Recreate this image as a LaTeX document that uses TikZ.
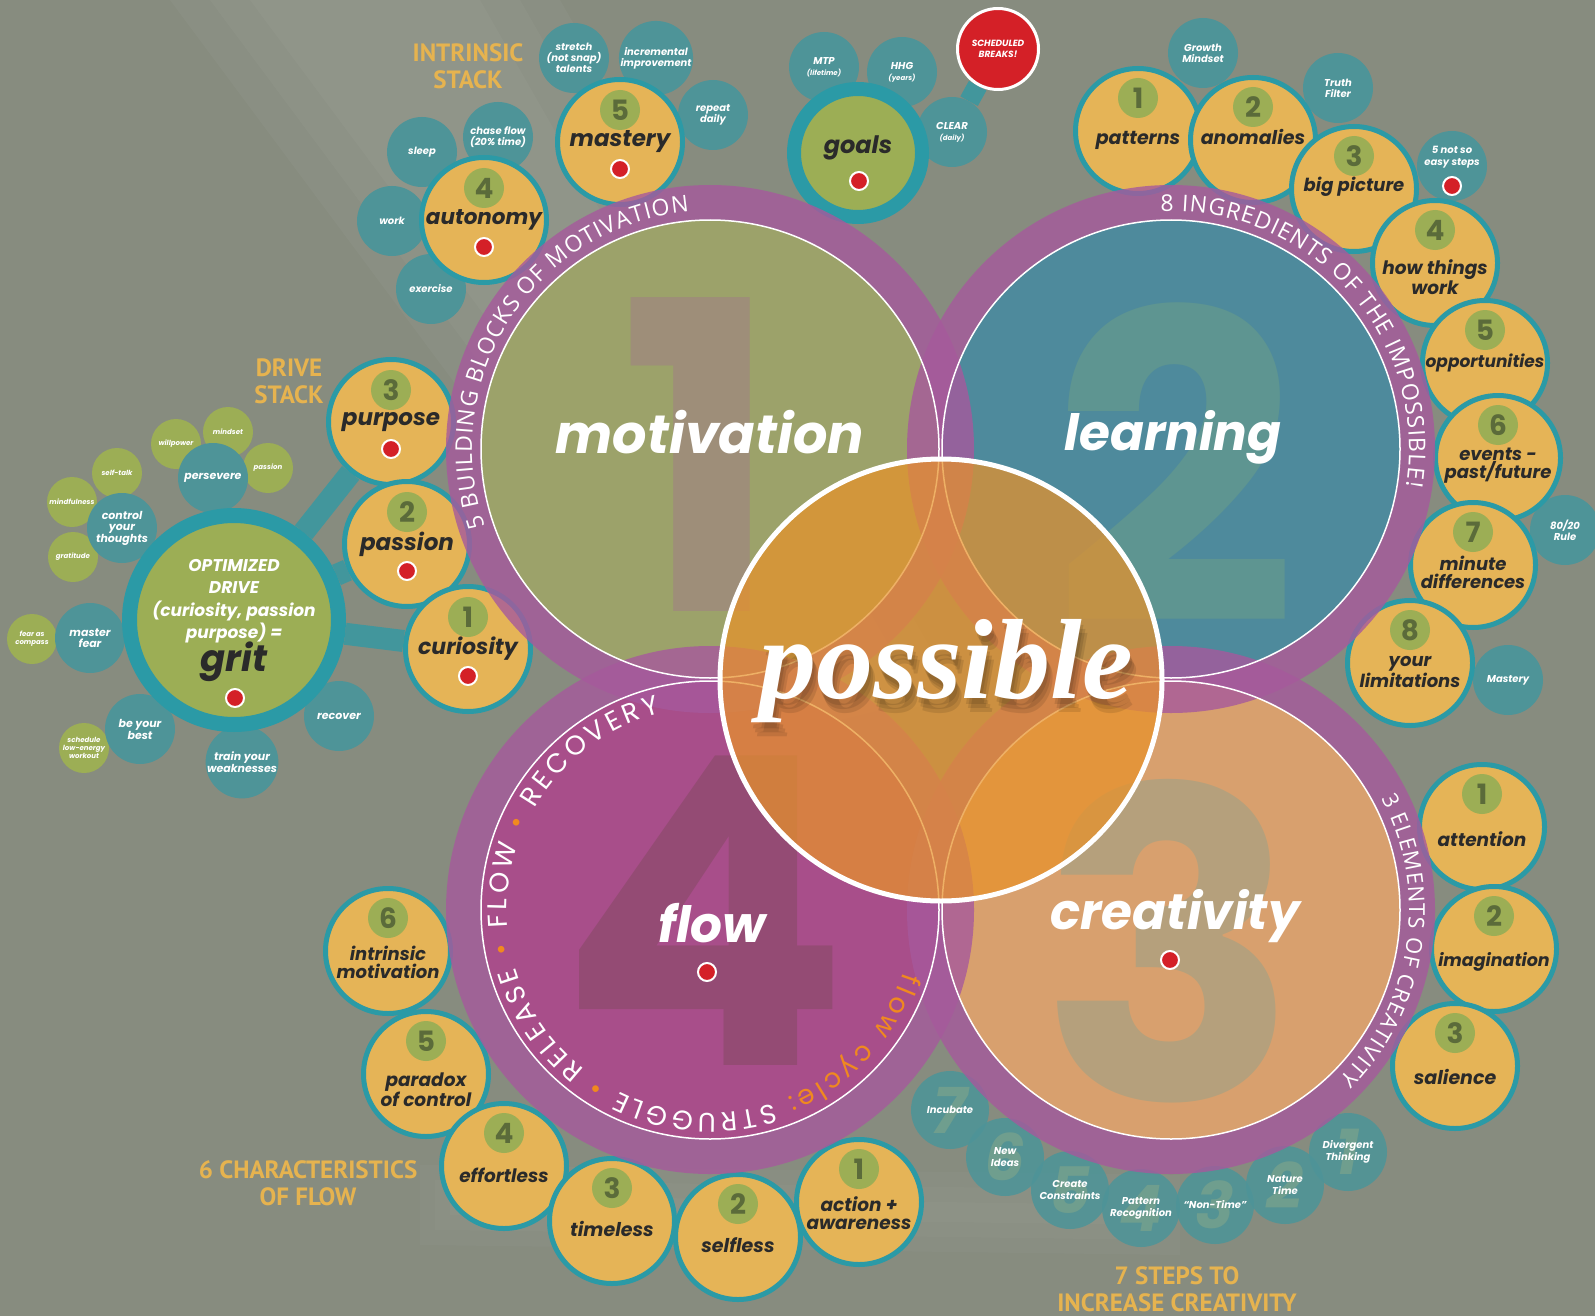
\documentclass[tikz,border=0pt]{standalone}
\usepackage{fontspec}
\setmainfont{Poppins}
\newfontfamily\ringfnt{Open Sans}
\newfontfamily\headfnt{PT Sans}
\newfontfamily\swashfnt{Liberation Serif}
\usetikzlibrary{calc,decorations.text}

\definecolor{bgGray}{HTML}{878C7F}
\definecolor{ringPurple}{HTML}{A6599C}
\definecolor{motGreen}{HTML}{9CA26A}
\definecolor{learnTeal}{HTML}{4E8A9C}
\definecolor{creaTan}{HTML}{D8A06E}
\definecolor{flowMag}{HTML}{A84E8A}
\definecolor{possOrange}{HTML}{E8922A}
\definecolor{satYellow}{HTML}{E5B457}
\definecolor{satTeal}{HTML}{2B9AA6}
\definecolor{dotTeal}{HTML}{4E9498}
\definecolor{leafGreen}{HTML}{9CAE55}
\definecolor{numOlive}{HTML}{5B6B3A}
\definecolor{inkDark}{HTML}{2A2A2A}
\definecolor{redDot}{HTML}{D42027}
\definecolor{headGold}{HTML}{E6B34F}
\definecolor{cycleOrange}{HTML}{F0891F}
\definecolor{ghostOne}{HTML}{9E8E79}
\definecolor{ghostTwo}{HTML}{5E9591}
\definecolor{ghostThree}{HTML}{B5A07C}
\definecolor{ghostFour}{HTML}{944B74}
\definecolor{ghostStep}{HTML}{6F9E8E}

\pgfdeclarelayer{backdrop}
\pgfdeclarelayer{bars}
\pgfsetlayers{backdrop,bars,main}

\newcommand{\cycfont}{\fontsize{27}{27}\selectfont}
\newcommand{\rimfont}{\ringfnt\fontsize{23}{23}\selectfont\color{white}}
\newcommand{\swashsize}{\swashfnt\bfseries\itshape\fontsize{114}{114}\selectfont}

\tikzset{
  bigsat/.style={circle, fill=satYellow, draw=satTeal, line width=5pt, minimum size=125pt, inner sep=0pt},
  satlabel/.style={align=center, text=inkDark, inner sep=0pt, font=\bfseries\itshape\fontsize{19}{18.5}\selectfont},
  badge/.style={circle, fill=leafGreen, minimum size=40pt, inner sep=0pt, text=numOlive, font=\bfseries\fontsize{28}{28}\selectfont},
  reddot/.style={circle, fill=redDot, draw=white, line width=2pt, minimum size=18pt, inner sep=0pt},
  tealbub/.style={circle, fill=dotTeal, minimum size=70pt, inner sep=0pt, align=center, text=white, font=\bfseries\itshape\fontsize{10}{11}\selectfont},
  leafbub/.style={circle, fill=leafGreen, minimum size=50pt, inner sep=0pt, align=center, text=white, font=\bfseries\itshape\fontsize{7}{8}\selectfont},
  stepbub/.style={circle, fill=dotTeal, fill opacity=0.88, minimum size=78pt, inner sep=0pt},
  steptext/.style={align=center, text=white, inner sep=0pt, font=\bfseries\itshape\fontsize{10}{12}\selectfont},
  ghoststep/.style={text=ghostStep, inner sep=0pt, font=\bfseries\itshape\fontsize{64}{64}\selectfont},
  bigword/.style={text=white, inner sep=0pt, font=\bfseries\itshape\fontsize{50}{50}\selectfont},
  ghostnum/.style={inner sep=0pt, font=\bfseries\fontsize{430}{430}\selectfont},
  headline/.style={align=center, text=headGold, inner sep=0pt, font=\headfnt\bfseries\fontsize{25}{27}\selectfont},
  ringtext/.style={decorate, decoration={text along path, text align={fit to path}}},
  stickbar/.style={draw=satTeal, line width=22pt, opacity=0.75},
}

\begin{document}
\begin{tikzpicture}[x=1pt, y=-1pt]
\useasboundingbox (0,0) rectangle (1595,1316);
\begin{pgfonlayer}{backdrop}
  \fill[bgGray] (0,0) rectangle (1595,1316);
  % soft light beams
  \foreach \w in {0,40,80}
    \fill[white, opacity=0.03] (170+\w,0) -- (560-\w,0) -- (960-\w,700) -- (720+\w,740) -- cycle;
  \foreach \w in {0,15,30}
    \fill[white, opacity=0.025] (420+\w,1165+\w) -- (1180-\w,1175+\w) -- (1180-\w,1255-\w) -- (420+\w,1245-\w) -- cycle;
\end{pgfonlayer}

% centres of the four circles and of the overlay
\coordinate (motC) at (710,449);
\coordinate (lrnC) at (1171,449);
\coordinate (creC) at (1171,910);
\coordinate (flwC) at (710,910);
\coordinate (posC) at (941,680);

% intrinsic stack bubbles
\foreach \nm/\px/\py/\txt in {stretch/574/58/{stretch\\(not snap)\\talents},
    increment/656/58/{incremental\\improvement}, repeatd/713/115/{repeat\\daily},
    sleep/422/152/sleep, chase/498/137/{chase flow\\(20\% time)},
    work/392/221/work, exercise/431/289/exercise}
  \node[tealbub] (\nm) at (\px,\py) {\txt};

% goal bubbles
\node[tealbub] (mtp) at (824,67) {MTP\\{\fontsize{7}{8}\selectfont(lifetime)}};
\node[tealbub] (hhg) at (902,72) {HHG\\{\fontsize{7}{8}\selectfont(years)}};
\node[tealbub] (clear) at (952,132) {CLEAR\\{\fontsize{7}{8}\selectfont(daily)}};
\node[circle, fill=redDot, draw=white, line width=3pt, minimum size=81pt, inner sep=0pt, align=center,
  text=white, font=\bfseries\itshape\fontsize{9}{11}\selectfont] (breaks) at (998,49) {SCHEDULED\\BREAKS!};

% drive stack leaves and bubbles
\foreach \nm/\px/\py/\txt in {willpower/176/444/willpower, mindset/228/432/mindset,
    passleaf/268/468/passion, selftalk/117/473/self-talk, mindful/72/502/mindfulness,
    gratitude/73/557/gratitude, fearcomp/32/639/{fear as\\compass},
    lowenergy/84/748/{schedule\\low-energy\\workout}}
  \node[leafbub] (\nm) at (\px,\py) {\txt};
\foreach \nm/\px/\py/\txt in {persevere/213/478/persevere, control/122/528/{control\\your\\thoughts},
    masterfear/90/638/{master\\fear}, best/140/729/{be your\\best},
    train/242/762/{train your\\weaknesses}, recover/339/716/recover}
  \node[tealbub, font=\bfseries\itshape\fontsize{11}{11}\selectfont] (\nm) at (\px,\py) {\txt};

% learning bubbles
\foreach \nm/\px/\py/\txt in {growth/1203/53/{Growth\\Mindset}, truth/1338/88/{Truth\\Filter},
    rule/1565/530/{80/20\\Rule}, masterybub/1508/680/Mastery}
  \node[tealbub] (\nm) at (\px,\py) {\txt};
\node[tealbub] (notso) at (1452,166) {};
\node[steptext] (notso-txt) at ($(notso.center)+(0,-9)$) {5 not so\\easy steps};
\node[reddot] (notso-dot) at ($(notso.center)+(0,20)$) {};

% seven steps bubbles
\foreach \nm/\px/\py/\n/\txt in {incubate/950/1110/7/Incubate, newideas/1005/1157/6/{New\\Ideas},
    constraints/1070/1190/5/{Create\\Constraints}, patrec/1141/1208/4/{Pattern\\Recognition},
    nontime/1215/1205/3/{“Non-Time”}, nature/1285/1185/2/{Nature\\Time},
    divergent/1348/1152/1/{Divergent\\Thinking}} {
  \node[stepbub] (\nm) at (\px,\py) {};
  \node[ghoststep] (\nm-num) at (\nm.center) {\n};
  \node[steptext] (\nm-txt) at (\nm.center) {\txt};
}

% grit
\node[circle, fill=leafGreen, draw=satTeal, line width=15pt, minimum size=209pt] (grit) at (234,620) {};
\node[align=center, text=white, inner sep=0pt, font=\bfseries\itshape\fontsize{17}{22.5}\selectfont]
  (grit-txt) at (234,601) {OPTIMIZED\\DRIVE\\(curiosity, passion\\purpose) =};
\node[text=inkDark, inner sep=0pt, font=\bfseries\itshape\fontsize{37}{37}\selectfont] (grit-word) at (234,662) {grit};
\node[reddot] (grit-dot) at (235,698) {};

% goals
\node[circle, fill=leafGreen, draw=satTeal, line width=14pt, minimum size=128pt] (goals) at (858,153) {};
\node[satlabel, font=\bfseries\itshape\fontsize{24}{24}\selectfont] (goals-txt) at (858,148) {goals};
\node[reddot] (goals-dot) at (859,181) {};

% motivation stack
\foreach \nm/\px/\py/\n/\fs in {mastery/620/142/5/23, autonomy/484/220/4/21.5, purpose/391/422/3/23,
    passion/407/544/2/23, curiosity/468/649/1/22} {
  \node[bigsat] (\nm) at (\px,\py) {};
  \node[badge] (\nm-num) at ($(\nm.center)+(0,-32)$) {\n};
  \node[satlabel, font=\bfseries\itshape\fontsize{\fs}{\fs}\selectfont] (\nm-txt) at (\nm.center) {\nm};
  \node[reddot] (\nm-dot) at ($(\nm.center)+(0,27)$) {};
}

% other numbered satellites
\foreach \nm/\px/\py/\n/\dy/\fs/\txt in {patterns/1138/131/1/9/19/patterns, anomalies/1253/140/2/-3/19/anomalies,
    bigpic/1354/189/3/-2/18/big picture, howwork/1435/263/4/14/18.5/{how things\\work},
    oppo/1485/363/5/0/17/opportunities, events/1498/458/6/8/18/{events -\\past/future},
    minute/1473/565/7/7/18/{minute\\differences}, limits/1410/663/8/9/18/{your\\limitations},
    attention/1482/827/1/12/18.5/attention, imagin/1494/949/2/13/17.5/imagination,
    salience/1455/1066/3/11/19/salience,
    intrmot/388/951/6/11/18/{intrinsic\\motivation}, paradox/426/1074/5/16/18.5/{paradox\\of control},
    effort/504/1166/4/9/18.5/effortless, timeless/612/1221/3/8/19/timeless,
    selfless/738/1237/2/8/19/selfless, action/859/1202/1/11/18.5/{action +\\awareness}} {
  \node[bigsat] (\nm) at (\px,\py) {};
  \node[badge] (\nm-num) at ($(\nm.center)+(0,-33)$) {\n};
  \node[satlabel, font=\bfseries\itshape\fontsize{\fs}{\fs}\selectfont] (\nm-txt) at ($(\nm.center)+(0,\dy)$) {\txt};
}

% stick connectors
\begin{pgfonlayer}{bars}
  \draw[stickbar] (grit) -- (purpose);
  \draw[stickbar] (grit) -- (passion);
  \draw[stickbar] (grit) -- (curiosity);
  \draw[stickbar, line width=20pt] (clear) -- (breaks);
\end{pgfonlayer}

% four inner discs
\foreach \c/\col in {motC/motGreen, lrnC/learnTeal, creC/creaTan, flwC/flowMag}
  \fill[\col] (\c) circle (229);
\node[ghostnum, text=ghostOne] (ghost-one) at (700,455) {1};
\node[ghostnum, text=ghostTwo] (ghost-two) at (1175,463) {2};
\node[ghostnum, text=ghostThree] (ghost-three) at (1170,941) {3};
\node[ghostnum, text=ghostFour] (ghost-four) at (704,911) {4};

% purple rings
\foreach \c in {motC,lrnC,creC,flwC}
  \fill[ringPurple, opacity=0.8, even odd rule] (\c) circle (264) (\c) circle (229);
\foreach \c in {motC,lrnC,creC,flwC}
  \draw[white, line width=1.5pt] (\c) circle (229);

% possible overlay
\fill[possOrange, opacity=0.72] (posC) circle (221);
\draw[white, line width=5pt] (posC) circle (221);

% ring captions
\path[ringtext, decoration={text={|\rimfont|5 BUILDING BLOCKS OF MOTIVATION}}]
  ([shift={(-199:238)}]motC) arc[start angle=-199, end angle=-95, radius=238];
\path[ringtext, decoration={text={|\rimfont|8 INGREDIENTS OF THE IMPOSSIBLE!}}]
  ([shift={(-92.5:238)}]lrnC) arc[start angle=-92.5, end angle=9, radius=238];
\path[ringtext, decoration={text={|\ringfnt\fontsize{22}{22}\selectfont\color{white}|3 ELEMENTS OF CREATIVITY}}]
  ([shift={(-28:238)}]creC) arc[start angle=-28, end angle=45, radius=238];
\path[ringtext, decoration={text={|\cycfont\color{cycleOrange}|flow cycle: |\cycfont\color{white}|STRUGGLE |\cycfont\color{cycleOrange}|• |\cycfont\color{white}|RELEASE |\cycfont\color{cycleOrange}|• |\cycfont\color{white}|FLOW |\cycfont\color{cycleOrange}|• |\cycfont\color{white}|RECOVERY}}]
  ([shift={(18:203)}]flwC) arc[start angle=18, end angle=256, radius=203];

% centre words
\node[bigword, font=\bfseries\itshape\fontsize{54}{54}\selectfont] (mot-word) at (710,432) {motivation};
\node[bigword] (lrn-word) at (1173,437) {learning};
\node[bigword] (cre-word) at (1175,916) {creativity};
\node[bigword] (flw-word) at (712,923) {flow};
\node[reddot] (flw-dot) at (707,972) {};
\node[reddot] (cre-dot) at (1170,960) {};
\foreach \s in {1,2,3}
  \node[text=black, opacity=0.1, inner sep=0pt, font=\swashsize] (poss-shadow-\s) at (946+2*\s,673+4*\s) {possible};
\node[text=white, inner sep=0pt, font=\swashsize] (poss-word) at (946,671) {possible};

% headings
\node[headline] (intrinsic-head) at (468,66) {INTRINSIC\\STACK};
\node[headline] (drive-head) at (289,381) {DRIVE\\STACK};
\node[headline] (flow-head) at (308,1183) {6 CHARACTERISTICS\\OF FLOW};
\node[headline] (steps-head) at (1177,1289) {7 STEPS TO\\INCREASE CREATIVITY};
\end{tikzpicture}
\end{document}
